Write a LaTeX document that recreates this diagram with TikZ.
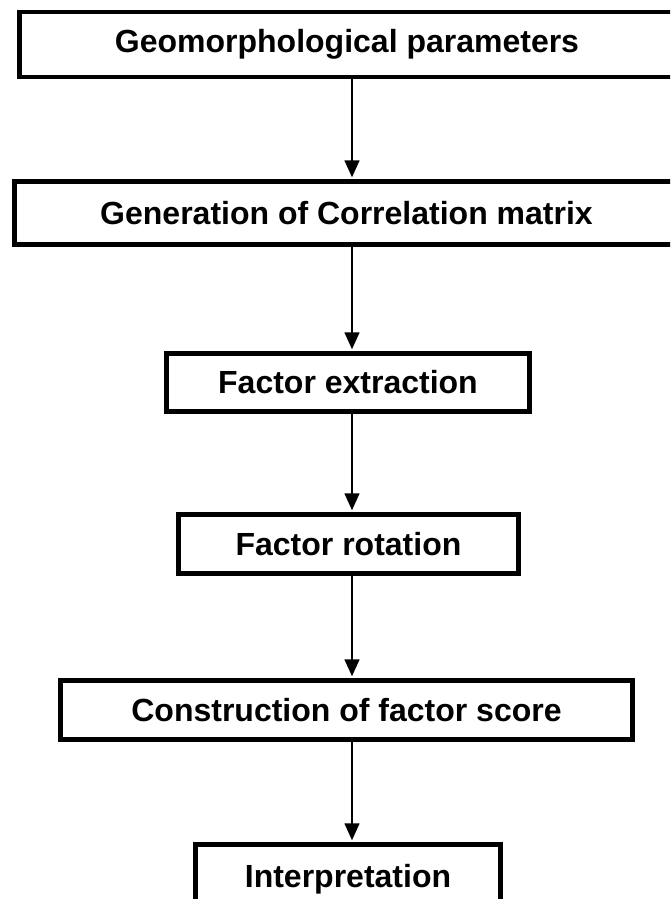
\documentclass[tikz,border=0pt]{standalone}
\usepackage{fontspec}
\setmainfont{Liberation Sans}
\usetikzlibrary{arrows.meta}

\begin{document}
\begin{tikzpicture}[x=1pt, y=-1pt,
      BX/.style = {draw, line width=4.5pt, inner sep=0pt,
                   font=\fontsize{32}{38}\selectfont\bfseries},
      AR/.style = {line width=1.6pt, shorten >=2pt,
                   -{Triangle[length=17pt, width=15pt]}} ]
\useasboundingbox (0,0) rectangle (670,899);
\clip (0,0) rectangle (670,899);

\node (gp) [BX, minimum width=655pt, minimum height=65pt] at (347,44.5)  {Geomorphological parameters};
\node (cm) [BX, minimum width=664pt, minimum height=63pt] at (346.5,213) {Generation of Correlation matrix};
\node (fe) [BX, minimum width=363pt, minimum height=58pt] at (348,382.5) {Factor extraction};
\node (fr) [BX, minimum width=340pt, minimum height=59pt] at (348.5,544) {Factor rotation};
\node (fs) [BX, minimum width=572pt, minimum height=59pt] at (346.5,710) {Construction of factor score};
\node (ip) [BX, minimum width=305pt, minimum height=70pt] at (348,879.5) {Interpretation};

% arrows all run down one line
\coordinate (ax) at (352,0);
\foreach \a/\b in {gp/cm, cm/fe, fe/fr, fr/fs, fs/ip}
  \draw[AR] (\a.south -| ax) -- (\b.north -| ax);
\end{tikzpicture}
\end{document}
